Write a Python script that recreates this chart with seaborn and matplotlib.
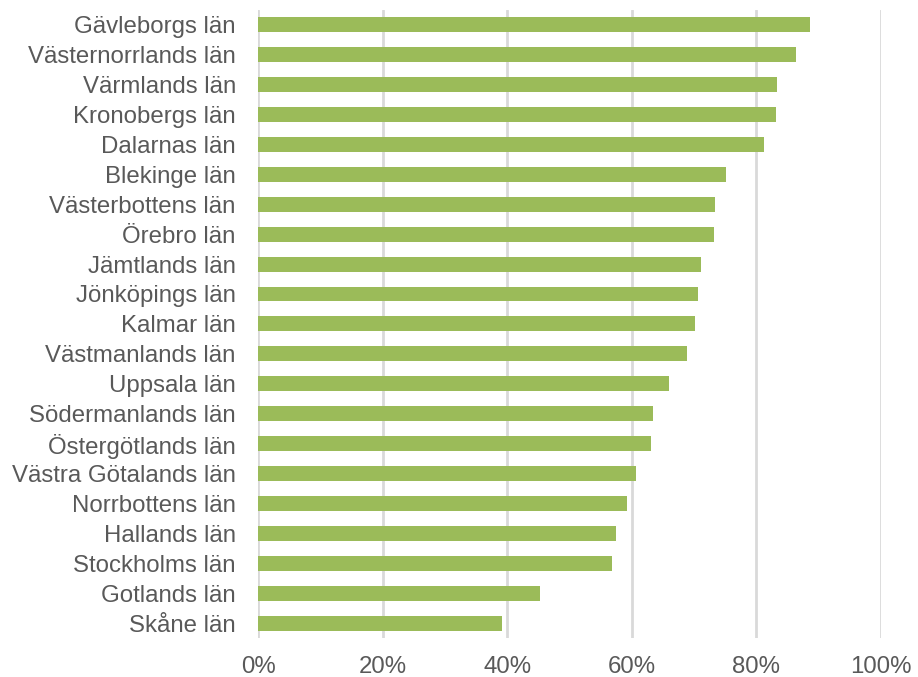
import matplotlib
matplotlib.use("Agg")
import matplotlib.pyplot as plt
import seaborn as sns
import pandas as pd
from matplotlib.ticker import PercentFormatter

counties = ["Gävleborgs län", "Västernorrlands län", "Värmlands län", "Kronobergs län",
            "Dalarnas län", "Blekinge län", "Västerbottens län", "Örebro län",
            "Jämtlands län", "Jönköpings län", "Kalmar län", "Västmanlands län",
            "Uppsala län", "Södermanlands län", "Östergötlands län", "Västra Götalands län",
            "Norrbottens län", "Hallands län", "Stockholms län", "Gotlands län", "Skåne län"]
values = [0.886, 0.864, 0.833, 0.832, 0.813, 0.751, 0.734, 0.732,
          0.711, 0.706, 0.701, 0.688, 0.659, 0.634, 0.631, 0.606,
          0.592, 0.575, 0.569, 0.453, 0.391]
xticks = [0, 0.2, 0.4, 0.6, 0.8, 1.0]

df = pd.DataFrame({"county": counties, "value": values})

sns.set_theme(style="white")
plt.rcParams["font.family"] = ["Liberation Sans", "DejaVu Sans"]

fig = plt.figure(figsize=(9.18, 6.77), dpi=100)
ax = fig.add_axes([258/918, 1 - 638/677, (881 - 258)/918, (638 - 9.8)/677])

sns.barplot(data=df, x="value", y="county", orient="h", color="#9bbb59",
            saturation=1, width=0.5, ax=ax, zorder=3, linewidth=0)

ax.set_xlim(0, 1.0)
ax.set_xticks(xticks)
ax.xaxis.set_major_formatter(PercentFormatter(1.0, decimals=0))
ax.grid(axis="x", color="#d9d9d9", linewidth=2, linestyle="-", zorder=0)
ax.grid(axis="y", visible=False)
for s in ax.spines.values():
    s.set_visible(False)
ax.set_xlabel("")
ax.set_ylabel("")
ax.tick_params(axis="y", length=0, pad=16, labelsize=17.3, labelcolor="#595959")
ax.tick_params(axis="x", length=0, pad=13, labelsize=17.3, labelcolor="#595959")
ax.set_axisbelow(True)

fig.savefig("out.png", dpi=100)
